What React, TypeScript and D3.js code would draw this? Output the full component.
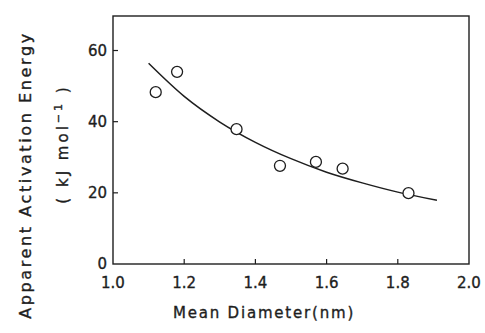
import React, { useRef, useEffect } from "react";
import * as d3 from "d3";

// measured points (mean diameter nm, activation energy kJ/mol)
const diameters = [1.12, 1.18, 1.347, 1.469, 1.57, 1.645, 1.83];
const energies = [48.3, 54.0, 37.9, 27.6, 28.7, 26.8, 19.9];

// fitted curve
const curveX = [1.1, 1.2, 1.3, 1.4, 1.5, 1.6, 1.7, 1.8, 1.91];
const curveY = [56.4, 47.1, 39.9, 34.2, 29.6, 25.8, 22.8, 20.2, 17.9];

const xTicks = [1.0, 1.2, 1.4, 1.6, 1.8, 2.0];
const yTicks = [0, 20, 40, 60];

const App: React.FC = () => {
  const svgRef = useRef<SVGSVGElement | null>(null);

  useEffect(() => {
    const svg = d3.select(svgRef.current);
    svg.selectAll("*").remove();

    const width = 485;
    const height = 333;
    const margin = { top: 16, right: 16, bottom: 70, left: 113 };
    const ink = "#1e1e1e";
    const font = "'DejaVu Sans', sans-serif";

    const x = d3.scaleLinear().domain([1.0, 2.0]).range([margin.left, width - margin.right]);
    const y = d3.scaleLinear().domain([0, 69.7]).range([height - margin.bottom + 1, margin.top]);

    svg.attr("width", width).attr("height", height);
    svg.append("rect").attr("width", width).attr("height", height).attr("fill", "#fff");

    // frame
    svg.append("rect")
      .attr("x", x(1.0))
      .attr("y", margin.top)
      .attr("width", x(2.0) - x(1.0))
      .attr("height", y(0) - margin.top)
      .attr("fill", "none")
      .attr("stroke", ink)
      .attr("stroke-width", 1.4);

    // inward ticks
    svg.append("g").selectAll("line")
      .data(xTicks.slice(1, -1))
      .enter().append("line")
      .attr("x1", d => x(d)).attr("x2", d => x(d))
      .attr("y1", y(0)).attr("y2", y(0) - 5)
      .attr("stroke", ink).attr("stroke-width", 1.2);

    svg.append("g").selectAll("line")
      .data(yTicks.slice(1))
      .enter().append("line")
      .attr("x1", x(1.0)).attr("x2", x(1.0) + 5)
      .attr("y1", d => y(d)).attr("y2", d => y(d))
      .attr("stroke", ink).attr("stroke-width", 1.2);

    const label = (sel: d3.Selection<SVGTextElement, any, any, any>, size: number) =>
      sel.attr("font-family", font)
        .attr("font-size", size)
        .attr("fill", ink)
        .attr("stroke", ink)
        .attr("stroke-width", 0.35);

    // tick labels
    svg.append("g").selectAll("text")
      .data(xTicks)
      .enter().append("text")
      .attr("x", d => x(d))
      .attr("y", 288)
      .attr("text-anchor", "middle")
      .call(s => label(s as any, 15))
      .text(d => d.toFixed(1));

    svg.append("g").selectAll("text")
      .data(yTicks)
      .enter().append("text")
      .attr("x", 107)
      .attr("y", d => y(d) + 5)
      .attr("text-anchor", "end")
      .call(s => label(s as any, 15))
      .text(d => String(d));

    // fitted curve
    const line = d3.line<number>()
      .x((_, i) => x(curveX[i]))
      .y(d => y(d))
      .curve(d3.curveMonotoneX);

    svg.append("path")
      .datum(curveY)
      .attr("fill", "none")
      .attr("stroke", ink)
      .attr("stroke-width", 1.5)
      .attr("d", line);

    // open circles
    svg.append("g").selectAll("circle")
      .data(energies)
      .enter().append("circle")
      .attr("cx", (_, i) => x(diameters[i]))
      .attr("cy", d => y(d))
      .attr("r", 5.5)
      .attr("fill", "#fff")
      .attr("stroke", ink)
      .attr("stroke-width", 1.3);

    // axis titles
    svg.append("text")
      .attr("x", 264)
      .attr("y", 318)
      .attr("text-anchor", "middle")
      .attr("letter-spacing", 1.8)
      .call(s => label(s as any, 15))
      .text("Mean Diameter(nm)");

    svg.append("text")
      .attr("transform", "translate(31,175) rotate(-90)")
      .attr("text-anchor", "middle")
      .attr("letter-spacing", 2.6)
      .call(s => label(s as any, 16))
      .text("Apparent Activation Energy");

    const unit = svg.append("text")
      .attr("transform", "translate(68,144) rotate(-90)")
      .attr("text-anchor", "middle")
      .attr("letter-spacing", 3)
      .call(s => label(s as any, 15));
    unit.append("tspan").text("( kJ mol");
    unit.append("tspan").attr("dy", -6).attr("font-size", 11).text("−1");
    unit.append("tspan").attr("dy", 6).text(" )");
  }, []);

  return (
    <div style={{ position: "absolute", left: 0, top: 0 }}>
      <svg ref={svgRef} style={{ display: "block" }} />
    </div>
  );
};

export default App;
